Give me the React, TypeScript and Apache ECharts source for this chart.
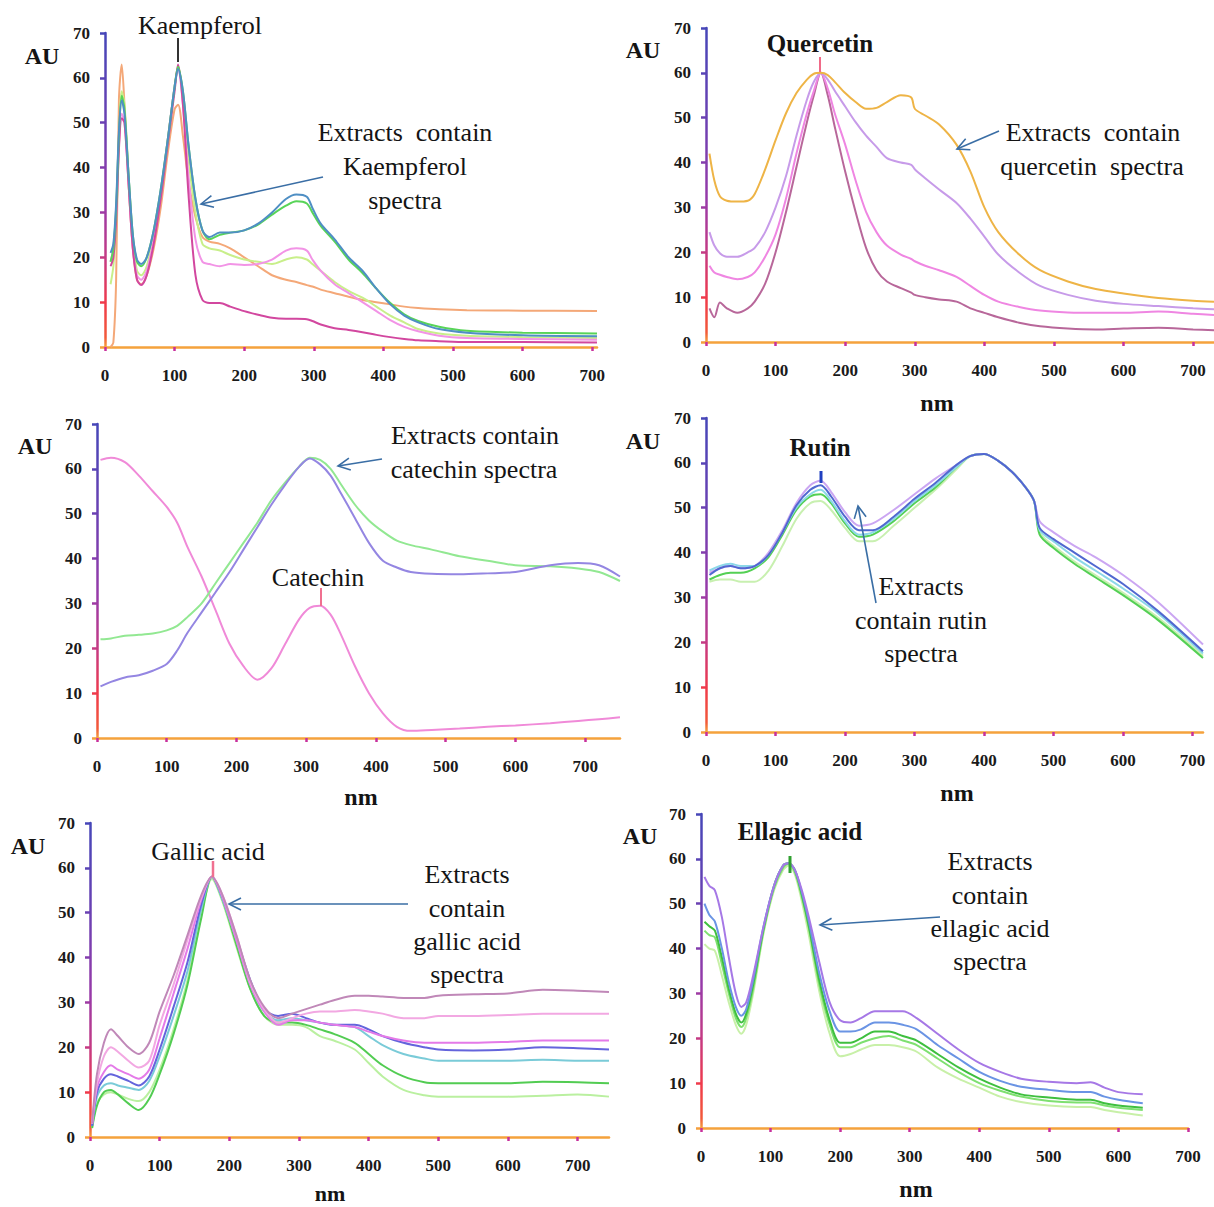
import React, { useEffect, useRef } from "react";
import * as echarts from "echarts";

// ---------- Panel 1 : Kaempferol ----------
const kaempNm = [8, 12, 16, 20, 24, 28, 34, 40, 46, 52, 60, 70, 80, 90, 100, 105, 112, 120, 130, 140, 150, 165, 180, 200, 220, 240, 260, 275, 290, 298, 310, 330, 350, 370, 390, 410, 430, 450, 480, 520, 600, 707];
const kaempBlue = [21, 23, 32, 48, 55, 52, 38, 25, 19.5, 18.5, 20, 26, 35, 46, 58, 62, 57, 45, 33, 26, 24.5, 25.5, 25.5, 26, 27.5, 30, 33, 34, 33.5, 31, 27.5, 24, 20, 17, 13, 9.5, 7, 5.5, 4, 3.2, 2.6, 2.4];
const kaempGreen = [19, 22, 31, 47, 56, 53, 38, 25, 19, 18, 20, 26, 35, 46, 58, 62.5, 57, 45, 33, 26, 24, 25, 25.5, 26, 27.3, 29.5, 31.5, 32.5, 32, 30, 27, 23.5, 19.5, 16.5, 13, 9.8, 7.3, 5.8, 4.5, 3.6, 3.2, 3.0];
const kaempPink = [19, 22, 30, 45, 52, 50, 36, 22, 16, 15, 17, 24, 34, 46, 58, 62, 54, 38, 24, 19, 18.5, 18, 18.5, 18.3, 18.5, 19.5, 21.5, 22, 21.5, 19.5, 17, 14, 12, 10, 8, 6, 4.5, 3.5, 2.5, 2, 1.8, 1.6];
const kaempLight = [14, 18, 28, 45, 57, 54, 38, 24, 17, 16, 18, 25, 34, 46, 58, 62.5, 56, 42, 30, 23, 22, 21.5, 20.5, 19.5, 19, 18.5, 19.5, 20, 19.5, 18.5, 17, 14.5, 12.5, 11, 9, 7, 5.5, 4, 3, 2.5, 2.2, 2];
const kaempOrange = [0, 1, 15, 55, 63, 54, 36, 22, 15, 14, 16, 22, 31, 43, 53, 54, 47, 37, 29, 24.5, 23.5, 23, 22, 20, 18, 16, 15, 14.5, 13.8, 13.5, 12.8, 12, 11.2, 10.5, 10, 9.5, 9, 8.7, 8.4, 8.2, 8.1, 8];
const kaempStd = [18, 20, 28, 44, 51, 50, 36, 22, 15, 13.8, 16, 23, 33, 45, 57, 63, 54, 34, 16, 10.5, 9.8, 9.8, 9, 8, 7.2, 6.5, 6.3, 6.3, 6.2, 5.8, 5, 4.2, 3.8, 3.3, 2.7, 2.2, 1.8, 1.5, 1.3, 1.1, 1.1, 1];

// ---------- Panel 2 : Quercetin ----------
const quercNm = [5, 12, 20, 30, 45, 60, 70, 85, 100, 115, 130, 145, 155, 165, 175, 185, 200, 215, 230, 245, 260, 280, 295, 300, 315, 335, 360, 380, 400, 420, 450, 480, 520, 560, 600, 650, 700, 730];
const quercYellow = [42, 36, 32.5, 31.5, 31.3, 31.5, 33, 38.5, 45, 51, 55.5, 58.5, 59.8, 60, 59.5, 58, 55.5, 53.5, 52, 52.2, 53.5, 55, 54.5, 52, 50.5, 48.5, 44, 38, 30, 24.5, 19.5, 16, 13.5, 11.8, 10.8, 9.8, 9.2, 9];
const quercPurple = [24.5, 21.5, 19.8, 19, 19, 20, 21, 24.5, 30, 37, 46, 54, 58, 60, 58.5, 56, 52.5, 49, 46, 43.5, 41, 40, 39.5, 38.5, 36.5, 34, 31, 27.5, 23.5, 19.5, 15.5, 12.5, 10.5, 9.2, 8.5, 8, 7.5, 7.3];
const quercPink = [17, 15.5, 15, 14.5, 14, 14.5, 15.5, 19, 24, 32, 42, 51, 56, 60, 56.5, 51, 44, 36, 29, 24.5, 21.5, 19.5, 18.5, 18, 17, 16, 14.5, 12.5, 10.5, 9, 7.8, 7, 6.6, 6.5, 6.5, 6.8, 6.3, 6];
const quercMauve = [7.5, 5.5, 8.8, 7.5, 6.5, 7.5, 9, 13, 20, 29, 39, 49, 55, 60, 55, 48, 38, 29, 21, 16, 13.5, 12, 11, 10.5, 10, 9.5, 9, 7.5, 6.5, 5.5, 4.3, 3.5, 3, 2.8, 3, 3.2, 2.8, 2.6];

// ---------- Panel 3 : Catechin ----------
const catNm = [5, 20, 40, 60, 80, 100, 115, 130, 150, 170, 190, 210, 230, 250, 270, 290, 305, 320, 335, 350, 370, 390, 410, 430, 450, 480, 520, 560, 600, 650, 690, 720, 750];
const catPink = [62, 62.5, 61.5, 58.5, 55, 51.5, 48, 42.5, 36, 28.5, 21, 16, 13, 15.5, 21, 26.5, 29, 29.5, 27.5, 23, 16, 10, 5.5, 2.5, 1.6, 1.8, 2.1, 2.5, 2.8, 3.3, 3.8, 4.2, 4.6];
const catGreen = [22, 22.2, 22.8, 23, 23.3, 24, 25, 27, 30, 34.5, 39, 43.5, 48, 53, 57, 60.5, 62.5, 62, 60, 56.5, 52, 48.5, 46, 44, 43, 42, 40.5, 39.5, 38.5, 38.3, 37.8, 37, 35];
const catBlue = [11.5, 12.5, 13.5, 14, 15, 16.5, 19.5, 23.5, 28, 32.5, 37, 42, 47, 52, 56.5, 60.5, 62.3, 61, 58.5, 54.5, 49, 43.5, 39.5, 38, 37, 36.6, 36.5, 36.7, 37, 38.5, 39, 38.5, 36];

// ---------- Panel 4 : Rutin ----------
const rutinNm = [5, 20, 35, 50, 70, 90, 110, 130, 150, 165, 180, 200, 220, 240, 270, 300, 330, 360, 380, 400, 420, 440, 460, 472, 480, 500, 530, 560, 600, 650, 715];
const rutinPurple = [35.5, 36.5, 37, 36.5, 37, 40, 45, 51, 55, 56, 53.5, 49, 46, 46.5, 49.5, 53, 56.5, 59.5, 61.5, 62, 60.5, 58, 54.5, 51.5, 47, 44.5, 41.5, 39, 35, 29, 19.5];
const rutinBlue = [35, 36.5, 37, 36.5, 37, 39.5, 44.5, 50.5, 54, 55, 52.5, 48, 45, 45, 48, 52, 55.5, 59.5, 61.5, 62, 60.5, 58, 54.5, 51.5, 45.5, 43, 40, 37, 33, 27, 18];
const rutinCyan = [36, 37, 37.5, 37, 37, 39.5, 44.5, 50, 53, 54, 51.5, 47, 44, 44.5, 47.5, 51.5, 55, 59, 61.5, 62, 60.5, 58, 54.5, 51.5, 45, 42.5, 39, 36, 32, 26.5, 17.5];
const rutinGreen = [34, 35, 35.5, 35.5, 36.5, 39, 44, 49.5, 52.5, 53, 51, 46.5, 43.5, 44, 47, 51, 54.5, 59, 61.5, 62, 60.5, 58, 54.5, 51.5, 44, 41, 37.5, 34.5, 30.5, 25, 16.5];
const rutinLight = [33.5, 34, 34, 33.5, 33.5, 36, 41.5, 47.5, 51, 51.5, 49.5, 45.5, 42.5, 42.5, 46, 50, 54, 58.5, 61.5, 62, 60.5, 58, 54.5, 51.5, 44.5, 41.5, 38, 35, 31, 25.5, 17];

// ---------- Panel 5 : Gallic acid ----------
const gallicNm = [3, 10, 20, 30, 40, 55, 70, 85, 100, 120, 140, 160, 175, 190, 210, 230, 250, 270, 290, 310, 330, 350, 380, 400, 420, 450, 480, 500, 550, 600, 650, 700, 745];
const gallicMauve = [3, 14, 21, 24, 22.5, 20, 18.5, 21, 28, 36, 45, 54, 58, 54, 45, 35, 29, 26.5, 27.5, 28.5, 29.5, 30.5, 31.5, 31.5, 31.3, 31, 31, 31.5, 31.8, 32, 32.8, 32.6, 32.3];
const gallicPink = [3, 12, 18, 20, 19, 17, 15.5, 17, 25, 34, 44, 53.5, 58, 54, 45, 34.5, 28.5, 25.5, 26.5, 27.5, 28, 28, 28.3, 28, 27.5, 26.5, 26.5, 27, 27, 27.2, 27.5, 27.5, 27.5];
const gallicMagenta = [3, 11, 14.5, 16, 15, 14, 13, 15, 22, 32, 42, 53, 58, 53.5, 44, 34, 28, 25, 26, 26, 25.5, 25, 24.5, 23.5, 22.5, 21.5, 21, 21, 21, 21.2, 21.5, 21.5, 21.5];
const gallicBlue = [2.5, 10, 13, 14, 13.5, 12.5, 11.5, 13.5, 19.5, 29, 39, 52, 58, 53.5, 44.5, 35, 28.5, 27, 27.5, 26.5, 25.5, 25, 25, 24, 22.5, 21, 20, 19.5, 19.3, 19.5, 20, 19.8, 19.5];
const gallicCyan = [2.5, 9, 11.5, 12, 11.5, 11, 10.5, 12.5, 18, 27, 37, 51, 58, 53, 44, 34, 28, 26, 26.5, 26, 25.5, 25, 24.5, 22.5, 20.5, 18.5, 17.5, 17, 17, 17, 17.2, 17, 17];
const gallicGreen = [2, 7, 10, 10.5, 9.5, 7.5, 6, 8.5, 14, 23, 34, 49, 58, 53, 43, 33, 27, 25.5, 25.5, 25, 24, 23, 21, 18.5, 16, 13.5, 12.2, 12, 12, 12, 12.3, 12.2, 12];
const gallicLight = [2, 7.5, 9.5, 10, 9.5, 8.5, 8, 10, 15, 24, 35, 50, 57.5, 52.5, 42.5, 33, 27, 25, 25, 24.5, 22.5, 21.5, 19.5, 16.5, 13.5, 10.5, 9.3, 9, 9, 9, 9.2, 9.5, 9];

// ---------- Panel 6 : Ellagic acid ----------
const ellagicNm = [5, 12, 20, 30, 40, 50, 58, 65, 75, 90, 105, 118, 126, 135, 145, 155, 170, 185, 200, 215, 230, 250, 270, 290, 310, 340, 370, 400, 430, 460, 500, 540, 560, 580, 600, 635];
const ellagicPurple = [56, 54, 53, 47, 38, 30, 27, 28, 34, 45, 54, 58.5, 59, 57.5, 53, 47, 37, 28, 24, 23.5, 24.5, 26, 26, 26, 24.5, 21, 17.5, 14.5, 12.5, 11, 10.3, 10, 10.2, 9, 8, 7.5];
const ellagicBlue = [50, 47.5, 46, 40, 32.5, 27, 25, 26.5, 33, 45, 54, 58.5, 59, 57.5, 52.5, 46, 34.5, 26, 21.5, 21.5, 22, 23.5, 23.5, 23, 22, 18.5, 15.5, 12.5, 10.5, 9.2, 8.5, 8, 8, 7, 6.3, 5.5];
const ellagicGreen = [46, 45, 44, 38, 31, 25.5, 23.5, 25.5, 32, 44.5, 54, 58.5, 59, 57.5, 52, 45, 33, 24, 19, 19, 20, 21.5, 21.5, 20.5, 19.5, 16.5, 13.5, 11, 9, 7.5, 6.8, 6.3, 6.3, 5.5, 5, 4.5];
const ellagicMid = [44, 43, 42.5, 36.5, 30, 24.5, 22.5, 24.5, 31, 44, 53.5, 58, 59, 57, 51.5, 44.5, 32, 23, 18, 18, 19, 20, 20.5, 19.5, 18.5, 15.5, 12.5, 10, 8.3, 7, 6, 5.7, 5.7, 5, 4.5, 4];
const ellagicLight = [41, 40, 39.5, 34, 28, 23, 21, 23, 30, 43.5, 53, 57.5, 58.5, 56.5, 50.5, 43, 30.5, 21, 16, 16.5, 17.5, 18.5, 18.5, 18, 17, 13.5, 11, 9, 7, 5.8, 5, 4.7, 4.7, 4, 3.5, 2.8];

const xTickValues = [0, 100, 200, 300, 400, 500, 600, 700];

// ---------- layout & styles ----------
const SERIF = '"Liberation Serif", "Times New Roman", serif';

type Line = { color: string; values: number[] };
type Panel = { nm: number[]; xMax: number; box: number[]; lines: Line[] };

const panels: Panel[] = [
  {
    nm: kaempNm, xMax: 707, box: [105, 33, 492, 314],
    lines: [
      { color: "#f4a878", values: kaempOrange },
      { color: "#c8ef8a", values: kaempLight },
      { color: "#f294e6", values: kaempPink },
      { color: "#d2479f", values: kaempStd },
      { color: "#58d458", values: kaempGreen },
      { color: "#4f8fc4", values: kaempBlue },
    ],
  },
  {
    nm: quercNm, xMax: 730, box: [706, 28, 508, 314],
    lines: [
      { color: "#b8679a", values: quercMauve },
      { color: "#ef86e2", values: quercPink },
      { color: "#c79be9", values: quercPurple },
      { color: "#eeb446", values: quercYellow },
    ],
  },
  {
    nm: catNm, xMax: 750, box: [97, 424, 523, 314],
    lines: [
      { color: "#f08ad8", values: catPink },
      { color: "#92e892", values: catGreen },
      { color: "#9486e2", values: catBlue },
    ],
  },
  {
    nm: rutinNm, xMax: 715, box: [706, 418, 497, 314],
    lines: [
      { color: "#c8f0b0", values: rutinLight },
      { color: "#54d054", values: rutinGreen },
      { color: "#8cd8e8", values: rutinCyan },
      { color: "#cba6f2", values: rutinPurple },
      { color: "#5068d0", values: rutinBlue },
    ],
  },
  {
    nm: gallicNm, xMax: 745, box: [90, 823, 519, 314],
    lines: [
      { color: "#baf0a0", values: gallicLight },
      { color: "#52cc52", values: gallicGreen },
      { color: "#7acbd8", values: gallicCyan },
      { color: "#6464dc", values: gallicBlue },
      { color: "#e47ae8", values: gallicMagenta },
      { color: "#f2a8e2", values: gallicPink },
      { color: "#c088b8", values: gallicMauve },
    ],
  },
  {
    nm: ellagicNm, xMax: 700, box: [701, 814, 487, 314],
    lines: [
      { color: "#c8f0a8", values: ellagicLight },
      { color: "#7ee070", values: ellagicMid },
      { color: "#3fbf3f", values: ellagicGreen },
      { color: "#6a94e4", values: ellagicBlue },
      { color: "#a678e6", values: ellagicPurple },
    ],
  },
];

// texts: [x, y, text, size, bold]
const labels: [number, number, string, number, boolean][] = [
  [42, 56, "AU", 24, true],
  [200, 25, "Kaempferol", 26, false],
  [405, 132, "Extracts  contain", 26, false],
  [405, 166, "Kaempferol", 26, false],
  [405, 200, "spectra", 26, false],

  [643, 50, "AU", 24, true],
  [820, 43, "Quercetin", 25, true],
  [1093, 132, "Extracts  contain", 26, false],
  [1092, 166, "quercetin  spectra", 26, false],
  [937, 403, "nm", 24, true],

  [35, 446, "AU", 24, true],
  [475, 435, "Extracts contain", 26, false],
  [474, 469, "catechin spectra", 26, false],
  [318, 577, "Catechin", 26, false],
  [361, 797, "nm", 24, true],

  [643, 441, "AU", 24, true],
  [820, 447, "Rutin", 25, true],
  [921, 586, "Extracts", 26, false],
  [921, 620, "contain rutin", 26, false],
  [921, 653, "spectra", 26, false],
  [957, 793, "nm", 24, true],

  [28, 846, "AU", 24, true],
  [208, 851, "Gallic acid", 26, false],
  [467, 874, "Extracts", 26, false],
  [467, 908, "contain", 26, false],
  [467, 941, "gallic acid", 26, false],
  [467, 974, "spectra", 26, false],
  [330, 1193, "nm", 22, true],

  [640, 836, "AU", 24, true],
  [800, 831, "Ellagic acid", 25, true],
  [990, 861, "Extracts", 26, false],
  [990, 895, "contain", 26, false],
  [990, 928, "ellagic acid", 26, false],
  [990, 961, "spectra", 26, false],
  [916, 1189, "nm", 24, true],
];

// arrows: tail x, tail y, head x, head y
const arrows: number[][] = [
  [323, 177, 201, 204],
  [999, 131, 957, 149],
  [382, 459, 338, 466],
  [876, 603, 858, 506],
  [408, 904, 229, 904],
  [940, 917, 820, 925],
];

// peak markers: x, y1, y2, color, width
const markers: [number, number, number, string, number][] = [
  [178, 38, 62, "#333333", 2],
  [820, 57, 72, "#f06a88", 2],
  [321, 588, 606, "#f07090", 2],
  [821, 471, 483, "#2040c0", 3],
  [213, 861, 877, "#f07090", 2.5],
  [790, 856, 873, "#30a030", 3],
];

function buildOption() {
  const grid = panels.map((p) => ({
    left: p.box[0], top: p.box[1], width: p.box[2], height: p.box[3],
  }));

  const xAxis = panels.map((p, i) => ({
    type: "value",
    gridIndex: i,
    min: 0,
    max: p.xMax,
    interval: 100,
    axisLine: { show: true, onZero: false, lineStyle: { color: "#f5a23c", width: 2.5 } },
    axisTick: { show: true, length: 4, customValues: xTickValues, lineStyle: { color: "#c8309c", width: 2.5 } },
    axisLabel: {
      customValues: xTickValues,
      formatter: (v: number) => (v % 100 === 0 ? String(v) : ""),
      margin: 20,
      fontFamily: SERIF,
      fontWeight: "bold",
      fontSize: 17,
      color: "#1a1a1a",
    },
    splitLine: { show: false },
  }));

  const yAxis = panels.map((p, i) => {
    const top = p.box[1];
    const bottom = p.box[1] + p.box[3];
    const grad = new echarts.graphic.LinearGradient(0, top, 0, bottom, [
      { offset: 0, color: "#4646b8" },
      { offset: 0.3, color: "#6c40b2" },
      { offset: 0.55, color: "#983aa8" },
      { offset: 0.72, color: "#c63a82" },
      { offset: 0.86, color: "#f03a4a" },
      { offset: 0.97, color: "#f25a3a" },
      { offset: 1, color: "#f5a03c" },
    ], true);
    return {
      type: "value",
      gridIndex: i,
      min: 0,
      max: 70,
      interval: 10,
      axisLine: { show: true, onZero: false, lineStyle: { color: grad, width: 2.5 } },
      axisTick: { show: true, length: 5, lineStyle: { color: grad, width: 2.5 } },
      axisLabel: {
        margin: 15,
        fontFamily: SERIF,
        fontWeight: "bold",
        fontSize: 17,
        color: "#1a1a1a",
      },
      splitLine: { show: false },
    };
  });

  const series: any[] = [];
  panels.forEach((p, i) => {
    p.lines.forEach((l) => {
      series.push({
        type: "line",
        xAxisIndex: i,
        yAxisIndex: i,
        data: p.nm.map((x, k) => [x, l.values[k]]),
        showSymbol: false,
        smooth: 0.3,
        silent: true,
        lineStyle: { color: l.color, width: 2 },
        itemStyle: { color: l.color },
      });
    });
  });

  const graphic: any[] = [];
  labels.forEach(([x, y, text, size, bold]) => {
    graphic.push({
      type: "text",
      x,
      y,
      z: 20,
      style: {
        text,
        fill: "#141414",
        font: `${bold ? "bold " : ""}${size}px ${SERIF}`,
        align: "center",
        verticalAlign: "middle",
        textAlign: "center",
        textVerticalAlign: "middle",
      },
    });
  });
  arrows.forEach(([x1, y1, x2, y2]) => {
    const dx = x2 - x1;
    const dy = y2 - y1;
    const len = Math.sqrt(dx * dx + dy * dy);
    const ux = dx / len;
    const uy = dy / len;
    const nx = -uy;
    const ny = ux;
    const hl = 12;
    const hw = 6;
    const stroke = "#3a6ea5";
    graphic.push({ type: "line", z: 20, shape: { x1, y1, x2, y2 }, style: { stroke, lineWidth: 1.6 } });
    graphic.push({
      type: "polyline",
      z: 20,
      shape: {
        points: [
          [x2 - hl * ux + hw * nx, y2 - hl * uy + hw * ny],
          [x2, y2],
          [x2 - hl * ux - hw * nx, y2 - hl * uy - hw * ny],
        ],
      },
      style: { stroke, lineWidth: 1.6, fill: null },
    });
  });
  markers.forEach(([x, y1, y2, color, w]) => {
    graphic.push({ type: "line", z: 20, shape: { x1: x, y1, x2: x, y2 }, style: { stroke: color, lineWidth: w } });
  });

  return {
    animation: false,
    backgroundColor: "#ffffff",
    grid,
    xAxis,
    yAxis,
    series,
    graphic,
  };
}

export default function App() {
  const ref = useRef<HTMLDivElement>(null);
  useEffect(() => {
    if (!ref.current) return;
    const chart = echarts.init(ref.current, null, { renderer: "svg" });
    chart.setOption(buildOption() as any);
    return () => chart.dispose();
  }, []);
  return (
    <div
      ref={ref}
      style={{ position: "absolute", left: 0, top: 0, width: 1214, height: 1207, background: "#fff" }}
    />
  );
}
